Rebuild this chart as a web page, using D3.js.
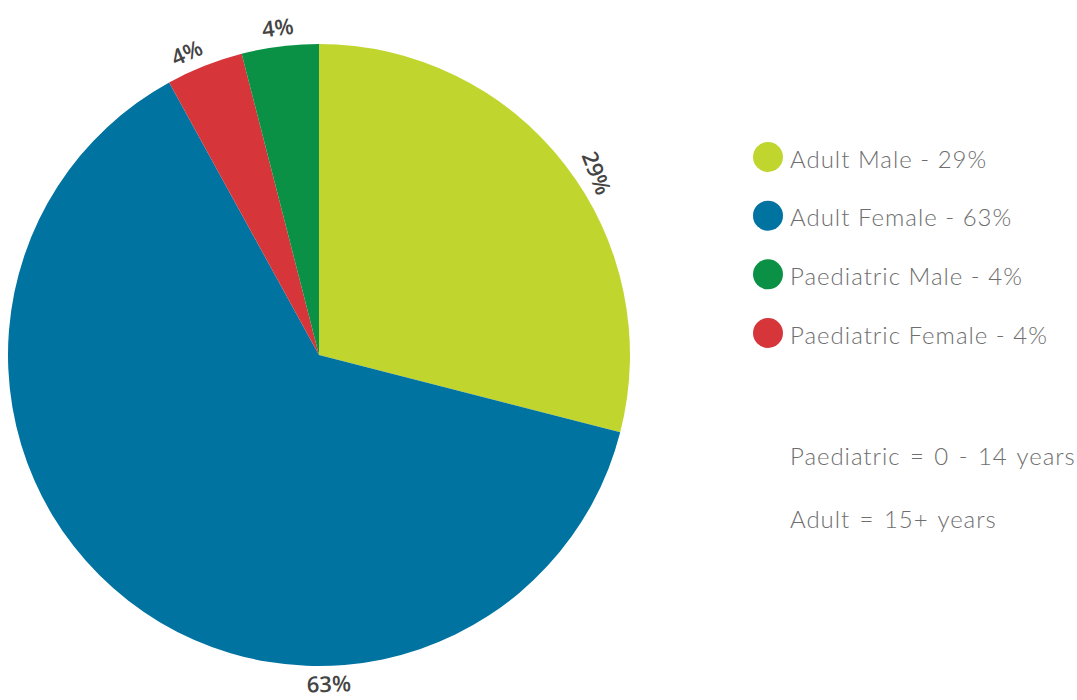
<!DOCTYPE html>
<html>
<head>
<meta charset="utf-8">
<script src="https://cdn.jsdelivr.net/npm/d3@7"></script>
<style>
  html, body { margin: 0; padding: 0; background: #fff; }
  svg { display: block; }
</style>
</head>
<body>
<svg id="chart" width="1077" height="700"></svg>
<script>
// Patient groups, drawn clockwise from 12 o'clock
const categories = ["Adult Male", "Adult Female", "Paediatric Female", "Paediatric Male"];
const values = [29, 63, 4, 4];
const colors = ["#c0d62f", "#0073a1", "#d6353a", "#0b9146"];

// Legend order and notes
const legendOrder = ["Adult Male", "Adult Female", "Paediatric Male", "Paediatric Female"];
const notes = ["Paediatric = 0 - 14 years", "Adult = 15+ years"];

const svg = d3.select("#chart");
const cx = 319, cy = 355, radius = 311;

const color = d3.scaleOrdinal().domain(categories).range(colors);
const data = categories.map((c, i) => ({ name: c, value: values[i] }));

const pie = d3.pie().value(d => d.value).sort(null);
const arcs = pie(data);
const arc = d3.arc().innerRadius(0).outerRadius(radius);

const g = svg.append("g").attr("transform", `translate(${cx},${cy})`);

g.selectAll("path.slice")
  .data(arcs)
  .join("path")
  .attr("class", "slice")
  .attr("d", arc)
  .attr("fill", d => color(d.data.name));

// Percentage labels set just outside the rim, turned along the tangent
g.selectAll("text.pct")
  .data(arcs)
  .join("text")
  .attr("class", "pct")
  .attr("transform", (d, i) => {
    const span = d.endAngle - d.startAngle;
    let a = (d.startAngle + d.endAngle) / 2;
    let r = radius + 20;
    const next = arcs[i + 1];
    // a slice that wraps the bottom of the pie is labelled at the bottom
    if (span > Math.PI && d.startAngle < Math.PI && d.endAngle > Math.PI) { a = Math.PI - 0.03; r = radius + 17; }
    else if (span > 1) { a += 0.08; r = radius + 22; }
    else if (next && next.endAngle - next.startAngle < 1) a -= 0.035; // keep neighbouring small labels apart
    const x = r * Math.sin(a), y = -r * Math.cos(a);
    let deg = a * 180 / Math.PI;
    if (deg > 90 && deg < 270) deg -= 180;
    if (deg >= 270) deg -= 360;
    if (span > 1 && span < Math.PI) deg += 12;
    return `translate(${x},${y}) rotate(${deg})`;
  })
  .attr("text-anchor", "middle")
  .attr("dominant-baseline", "central")
  .attr("font-family", "'Open Sans', sans-serif")
  .attr("font-weight", 600)
  .attr("font-size", 22)
  .attr("fill", "#444")
  .text(d => d.data.value + "%");

// Legend
const legend = svg.append("g").attr("transform", "translate(768,157)");
const rowY = d3.scalePoint().domain(legendOrder).range([0, 176]);
const rows = legend.selectAll("g.row")
  .data(legendOrder)
  .join("g")
  .attr("class", "row")
  .attr("transform", d => `translate(0,${rowY(d)})`);

rows.append("circle")
  .attr("r", 15)
  .attr("fill", d => color(d));

rows.append("text")
  .attr("x", 22)
  .attr("y", 1)
  .attr("dominant-baseline", "central")
  .attr("font-family", "Lato, sans-serif")
  .attr("font-weight", 300)
  .attr("font-size", 24)
  .attr("letter-spacing", 1)
  .attr("fill", "#6e6e6e")
  .text(d => `${d} - ${values[categories.indexOf(d)]}%`);

// Age group notes
svg.append("g")
  .selectAll("text")
  .data(notes)
  .join("text")
  .attr("x", 790)
  .attr("y", (d, i) => 455 + i * 63)
  .attr("dominant-baseline", "central")
  .attr("font-family", "Lato, sans-serif")
  .attr("font-weight", 300)
  .attr("font-size", 24)
  .attr("letter-spacing", 0.95)
  .attr("word-spacing", 2)
  .attr("fill", "#6e6e6e")
  .text(d => d);
</script>
</body>
</html>
